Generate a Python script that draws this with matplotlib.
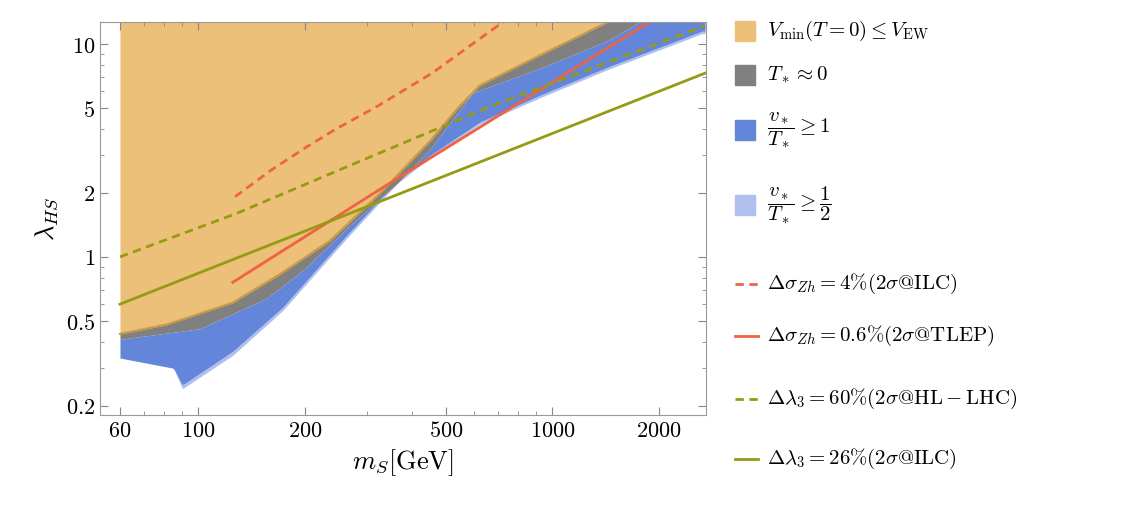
import matplotlib
matplotlib.use("Agg")
import matplotlib.pyplot as plt
import numpy as np
from matplotlib.patches import Rectangle
from matplotlib.lines import Line2D
from matplotlib.ticker import FixedLocator, NullFormatter

plt.rcParams['mathtext.fontset'] = 'cm'
plt.rcParams['font.family'] = 'serif'
plt.rcParams['font.serif'] = ['DejaVu Serif']

# boundaries of the regions
orange_x = [60, 81, 125, 170, 235, 325, 451, 540, 624, 864, 1435, 2710]
orange_y = [0.435, 0.48, 0.61, 0.83, 1.19, 1.98, 3.5, 5.0, 6.4, 8.4, 12.7, 12.7]
gray_x = [60, 101, 156, 200, 262, 363, 451, 596, 923, 1435, 1763, 2710]
gray_y = [0.41, 0.46, 0.64, 0.88, 1.36, 2.2, 3.2, 5.9, 7.7, 10.4, 12.7, 12.7]
blue_x = [60, 85, 90, 125, 173, 262, 363, 451, 624, 923, 1435, 2650]
blue_y = [0.335, 0.30, 0.25, 0.36, 0.58, 1.26, 2.25, 3.0, 4.3, 5.75, 7.8, 11.5]
light_y = [0.335, 0.30, 0.24, 0.345, 0.56, 1.22, 2.2, 2.93, 4.2, 5.6, 7.6, 11.2]

# constraint lines
zh4_x = [127, 160, 200, 242, 320, 457, 725]
zh4_y = [1.92, 2.55, 3.25, 3.95, 5.1, 7.3, 12.7]
zh06_x = [125, 329, 1880]
zh06_y = [0.76, 2.1, 12.7]
l60_x = [60, 128, 313, 670, 2700]
l60_y = [1.0, 1.6, 3.0, 5.1, 12.2]
l26_x = [60, 2700]
l26_y = [0.6, 7.3]

c_orange = '#EDC07A'
c_edge = '#C99A45'
c_gray = '#808080'
c_blue = '#6385DA'
c_light = '#AFC0EE'
c_red = '#EE6342'
c_green = '#959B12'

fig = plt.figure(figsize=(11.29, 5.11), dpi=100)
ax = fig.add_axes([0.0886, 0.188, 0.5364, 0.769])
ax.set_xscale('log')
ax.set_yscale('log')
ax.set_xlim(52.7, 2710)
ax.set_ylim(0.181, 12.7)

grid = np.geomspace(60, 2700, 400)
o = np.exp(np.interp(np.log(grid), np.log(orange_x), np.log(orange_y)))
g = np.exp(np.interp(np.log(grid), np.log(gray_x), np.log(gray_y)))
b = np.exp(np.interp(np.log(grid), np.log(blue_x), np.log(blue_y)))
lb = np.exp(np.interp(np.log(grid), np.log(blue_x), np.log(light_y)))
g = np.minimum(g, o)
b = np.minimum(b, g)
lb = np.minimum(lb, b)
ax.fill_between(grid, lb, b, color=c_light, lw=0)
ax.fill_between(grid, b, g, color=c_blue, lw=0)
ax.fill_between(grid, g, o, color=c_gray, lw=0)
ax.fill_between(grid, o, 12.7, color=c_orange, lw=0)
ax.plot(grid[o < 12.6], o[o < 12.6], color=c_edge, lw=1.5)

ax.plot(zh4_x, zh4_y, color=c_red, lw=2, ls=(0, (3, 2)))
ax.plot(zh06_x, zh06_y, color=c_red, lw=2)
ax.plot(l60_x, l60_y, color=c_green, lw=2, ls=(0, (3, 2)))
ax.plot(l26_x, l26_y, color=c_green, lw=2)

xt = [60, 100, 200, 500, 1000, 2000]
yt = [0.2, 0.5, 1, 2, 5, 10]
ax.xaxis.set_major_locator(FixedLocator(xt))
ax.set_xticklabels(['$%g$' % v for v in xt], fontsize=16)
ax.yaxis.set_major_locator(FixedLocator(yt))
ax.set_yticklabels(['$%g$' % v for v in yt], fontsize=16)
ax.xaxis.set_minor_formatter(NullFormatter())
ax.yaxis.set_minor_formatter(NullFormatter())
ax.tick_params(which='both', direction='in', top=True, right=True, color='#888888')
ax.tick_params(which='major', length=6)
ax.tick_params(which='minor', length=3)
for s in ax.spines.values():
    s.set_color('#999999')
ax.set_xlabel(r'$m_S[\mathrm{GeV}]$', fontsize=19)
ax.set_ylabel(r'$\lambda_{HS}$', fontsize=19)

# legend
W, H = 1129, 511
def fy(p):
    return 1 - p / H
patches = [(c_orange, r'$V_{\rm min}(T=0)\leq V_{\rm EW}$', 31),
           (c_gray, r'$T_*\approx 0$', 75),
           (c_blue, r'$\dfrac{v_*}{T_*}\geq 1$', 130),
           (c_light, r'$\dfrac{v_*}{T_*}\geq \dfrac{1}{2}$', 205)]
for c, t, p in patches:
    fig.patches.append(Rectangle((735 / W, fy(p + 10)), 20 / W, 20 / H,
                                 transform=fig.transFigure, color=c))
    fig.text(767 / W, fy(p), t, fontsize=15, va='center')
lines = [(c_red, (0, (3, 2)), r'$\Delta\sigma_{Zh}=4\%(2\sigma@\mathrm{ILC})$', 284),
         (c_red, '-', r'$\Delta\sigma_{Zh}=0.6\%(2\sigma@\mathrm{TLEP})$', 336),
         (c_green, (0, (3, 2)), r'$\Delta\lambda_3=60\%(2\sigma@\mathrm{HL-LHC})$', 399),
         (c_green, '-', r'$\Delta\lambda_3=26\%(2\sigma@\mathrm{ILC})$', 459)]
for c, ls, t, p in lines:
    fig.lines.append(Line2D([735 / W, 758 / W], [fy(p), fy(p)], transform=fig.transFigure,
                            color=c, ls=ls, lw=2))
    fig.text(767 / W, fy(p), t, fontsize=15, va='center')

fig.savefig('out.png', dpi=100)
